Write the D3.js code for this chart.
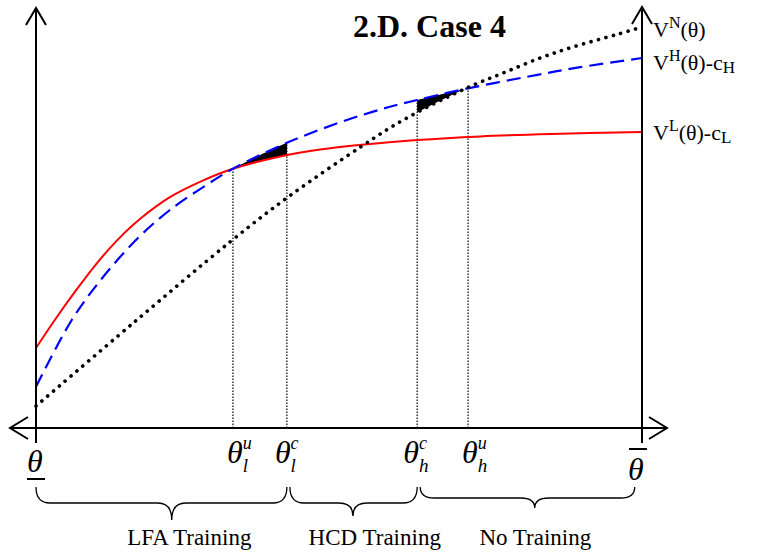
<!DOCTYPE html>
<html><head><meta charset="utf-8">
<script src="https://cdn.jsdelivr.net/npm/d3@7"></script>
<style>body{margin:0;background:#fff} svg{display:block}</style>
</head><body>
<svg id="c" width="763" height="556"></svg>
<script>
// ---- data (theta and value in 0..100 units) ----
const vnTheta = [0,16,32.2,41.6,53.8,60.6,71.1,77.1,83.2,88.6,95.9,100];
const vnValue = [5.5,26.2,46.75,57.75,70.5,77,85,88.75,92.5,95.25,98.4,100.25];
const vhTheta = [0,5.9,11.1,16.7,22.1,29.2,32.5,41.4,51.3,58.4,62.9,70,81,89.8,100];
const vhValue = [10.3,27,37.8,47.3,54.5,61.8,64.8,71.3,77,80.3,82,84.5,87.8,90.2,92.5];
const vlTheta = [0,3.1,6.5,10.1,13.5,17.2,22.1,27.6,32.5,40.3,46.9,53.8,62.9,73.3,85,100];
const vlValue = [20,27,34.2,41.3,47.1,52.3,57.7,61.9,64.8,67.9,69.6,70.8,72,72.9,73.5,74];

const cutTheta = [32.5, 41.4, 62.9, 71.3];
const cutTop   = [64.8, 71.3, 82, 85];
const cutSup   = ["u","c","c","u"];
const cutSub   = ["l","l","h","h"];

const regionLabels = ["LFA Training","HCD Training","No Training"];
const regionFrom   = [0, 41.9, 63.4];
const regionTo     = [41.4, 62.9, 98.8];
const regionTip    = [22.4, 52.3, 82.3];
const regionText   = [25.3, 55.9, 82.4];

const title = "2.D. Case 4";

// ---- drawing ----
const svg = d3.select("#c");
const x = d3.scaleLinear().domain([0,100]).range([36,642]);
const y = d3.scaleLinear().domain([0,100]).range([428,28]);
const serif = "'Liberation Serif','Times New Roman',serif";

const zip = (a,b)=>a.map((t,i)=>[t,b[i]]);
const vn = zip(vnTheta,vnValue), vh = zip(vhTheta,vhValue), vl = zip(vlTheta,vlValue);
const curve = d3.curveCatmullRom.alpha(0.5);
const line = d3.line().x(d=>x(d[0])).y(d=>y(d[1])).curve(curve);
const areaBelow = d3.area().x(d=>x(d[0])).y0(y(0)).y1(d=>y(d[1])).curve(curve);
const areaAbove = d3.area().x(d=>x(d[0])).y0(0).y1(d=>y(d[1])).curve(curve);

const defs = svg.append("defs");
defs.append("clipPath").attr("id","aboveRed").append("path").attr("d",areaAbove(vl));
defs.append("clipPath").attr("id","aboveBlack").append("path").attr("d",areaAbove(vn));
defs.append("clipPath").attr("id","r1").append("rect")
  .attr("x",x(cutTheta[0])).attr("width",x(cutTheta[1])-x(cutTheta[0])).attr("y",0).attr("height",556);
defs.append("clipPath").attr("id","r2").append("rect")
  .attr("x",x(cutTheta[2])).attr("width",x(cutTheta[3])-x(cutTheta[2])).attr("y",0).attr("height",556);

// filled regions
svg.append("g").attr("clip-path","url(#r1)").append("g").attr("clip-path","url(#aboveRed)")
  .append("path").attr("d",areaBelow(vh)).attr("fill","#000");
svg.append("g").attr("clip-path","url(#r2)").append("g").attr("clip-path","url(#aboveBlack)")
  .append("path").attr("d",areaBelow(vh)).attr("fill","#000");

// vertical dotted cut lines
svg.selectAll("line.cut").data(cutTheta).join("line").attr("class","cut")
  .attr("x1",d=>x(d)).attr("x2",d=>x(d)).attr("y1",y(0)).attr("y2",(d,i)=>y(cutTop[i]))
  .attr("stroke","#000").attr("stroke-width",1.2).attr("stroke-dasharray","1.4,1.6");

// curves
svg.append("path").attr("d",line(vl)).attr("fill","none").attr("stroke","#ff0000").attr("stroke-width",2);
svg.append("path").attr("d",line(vh)).attr("fill","none").attr("stroke","#0000ff").attr("stroke-width",2.2)
  .attr("stroke-dasharray","14,7");
svg.append("path").attr("d",line(vn)).attr("fill","none").attr("stroke","#000").attr("stroke-width",3.6)
  .attr("stroke-linecap","round").attr("stroke-dasharray","0.1,7.6");

// axes
const ax = svg.append("g").attr("stroke","#000").attr("stroke-width",2).attr("fill","none");
ax.append("line").attr("x1",10).attr("x2",667).attr("y1",y(0)).attr("y2",y(0));
ax.append("line").attr("x1",x(0)).attr("x2",x(0)).attr("y1",8).attr("y2",443);
ax.append("line").attr("x1",x(100)).attr("x2",x(100)).attr("y1",7).attr("y2",443);
ax.append("path").attr("d",`M${x(0)-10},25L${x(0)},8L${x(0)+10},25`);
ax.append("path").attr("d",`M${x(100)-10},24L${x(100)},7L${x(100)+10},24`);
ax.append("path").attr("d",`M28,${y(0)-11}L10,${y(0)}L28,${y(0)+11}`);
ax.append("path").attr("d",`M649,${y(0)-11}L667,${y(0)}L649,${y(0)+11}`);

// title
svg.append("text").attr("x",353).attr("y",37).attr("font-family",serif).attr("font-weight","bold")
  .attr("font-size",32).text(title);

// right labels
function rlabel(yy, sup, mid, sub){
  const t = svg.append("text").attr("x",653).attr("y",yy).attr("font-family",serif).attr("font-size",22);
  t.append("tspan").text("V");
  t.append("tspan").attr("dy",-9).attr("font-size",16).text(sup);
  t.append("tspan").attr("dy",9).text(mid);
  if(sub) t.append("tspan").attr("dy",3).attr("font-size",17).text(sub);
}
rlabel(37,"N","(θ)",null);
rlabel(70,"H","(θ)-c","H");
rlabel(140,"L","(θ)-c","L");

// theta labels at cut lines (one text each, sub stacked under sup)
const offs = [-6,-12,-14,-6];
const supW = {u:9, c:8};
cutTheta.forEach((d,i)=>{
  const t = svg.append("text").attr("x",x(d)+offs[i]).attr("y",463).attr("font-family",serif)
    .attr("font-style","italic").attr("font-size",32);
  t.append("tspan").text("θ");
  t.append("tspan").attr("dy",-14).attr("font-size",18).text(cutSup[i]);
  t.append("tspan").attr("dy",23).attr("dx",-supW[cutSup[i]]).attr("font-size",19).text(cutSub[i]);
});
// lower / upper bounds
svg.append("text").attr("x",27).attr("y",472).attr("font-family",serif).attr("font-style","italic")
  .attr("font-size",32).text("θ");
svg.append("line").attr("x1",27).attr("x2",45).attr("y1",479).attr("y2",479).attr("stroke","#000").attr("stroke-width",2);
svg.append("text").attr("x",628).attr("y",480).attr("font-family",serif).attr("font-style","italic")
  .attr("font-size",32).text("θ");
svg.append("line").attr("x1",629).attr("x2",647).attr("y1",449).attr("y2",449).attr("stroke","#000").attr("stroke-width",2);

// braces
function brace(x1,x2,xc,y0,ym,yt,q){
  return `M${x1},${y0}Q${x1},${ym} ${x1+q},${ym}L${xc-q},${ym}Q${xc},${ym} ${xc},${yt}`+
         `Q${xc},${ym} ${xc+q},${ym}L${x2-q},${ym}Q${x2},${ym} ${x2},${y0}`;
}
const bY = [[487,503,520],[487,503,516],[487,498,508]];
regionLabels.forEach((lab,i)=>{
  svg.append("path").attr("d",brace(x(regionFrom[i]),x(regionTo[i]),x(regionTip[i]),bY[i][0],bY[i][1],bY[i][2],14))
    .attr("fill","none").attr("stroke","#000").attr("stroke-width",1.3);
  svg.append("text").attr("x",x(regionText[i])).attr("y",545).attr("text-anchor","middle")
    .attr("font-family",serif).attr("font-size",23).text(lab);
});
</script>
</body></html>
